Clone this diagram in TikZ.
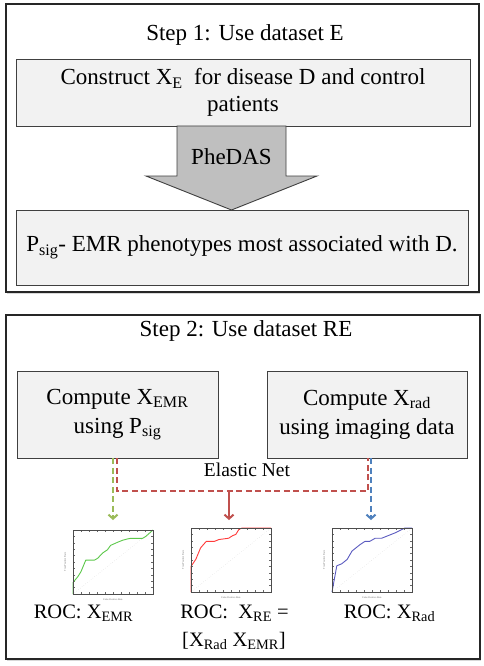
\documentclass[tikz,border=0pt]{standalone}
\usepackage{fontspec}
\setmainfont{Liberation Serif}
\usetikzlibrary{arrows.meta,shadows}
\definecolor{boxfill}{HTML}{F2F2F2}
\definecolor{boxline}{HTML}{404040}
\definecolor{arrowfill}{HTML}{BFBFBF}
\definecolor{dgreen}{HTML}{9BBB59}
\definecolor{dred}{HTML}{C0504D}
\definecolor{dblue}{HTML}{4F81BD}
\definecolor{rocgreen}{HTML}{5CC84A}
\definecolor{rocred}{HTML}{FF3B3B}
\definecolor{rocblue}{HTML}{5A5AC0}
\newcommand\mytext{\fontsize{23}{27}\selectfont}
\newcommand\mytextwide{\fontsize{23}{29}\selectfont}
\newcommand\mysub[1]{\textsubscript{#1}}
\newcommand\rocplot[4]{%
  \begin{scope}[shift={(#1,#2)},x=80pt,y=64pt]
    \draw[black!25,line width=0.3pt,dotted] (0,0) -- (1,1);
    \foreach \t in {0,0.1,...,1.01}{
      \draw[black!60,line width=0.25pt] (\t,0) -- (\t,0.03) (\t,1) -- (\t,0.97)
        (0,\t) -- (0.025,\t) (1,\t) -- (0.975,\t);
    }
    \draw[#3,line width=0.9pt,line join=round] #4;
    \draw[black!70,line width=0.6pt] (0,0) rectangle (1,1);
    \node[font=\fontsize{2.5}{3}\selectfont,text=black!60,anchor=north,inner sep=0.5pt] at (0.5,-0.07) {False Positive Rate};
    \node[font=\fontsize{2.5}{3}\selectfont,text=black!60,anchor=south,rotate=90,inner sep=0.5pt] at (-0.08,0.5) {True Positive Rate};
  \end{scope}}
\begin{document}
\begin{tikzpicture}[x=1pt,y=-1pt,
  outer/.style={draw=black!85,line width=1.5pt,fill=white,rectangle,inner sep=0pt,
    drop shadow={shadow xshift=1pt,shadow yshift=-1.5pt,opacity=0.3}},
  innerbox/.style={draw=boxline,fill=boxfill,line width=0.9pt,rectangle,inner sep=0pt,align=center,font=\mytext},
  title/.style={anchor=base,font=\mytext,inner sep=0pt},
  roclabel/.style={anchor=base,font=\fontsize{20.5}{25}\selectfont,inner sep=0pt},
  dashline/.style={line width=2pt,dash pattern=on 6pt off 3.5pt},
  tip/.style={-{Straight Barb[length=4pt,width=9pt]}}
]
\useasboundingbox (0,0) rectangle (484,666);
\fill[white] (0,0) rectangle (484,666);

% Step 1
\node[outer,minimum width=473pt,minimum height=288pt] (out1) at (242.5,148) {};
\node[title] (t1) at (245,40.5) {Step 1: Use dataset E};
\node[innerbox,minimum width=454pt,minimum height=67pt] (boxA) at (243,92.5)
  {Construct X\mysub{E}\ \ for disease D and control\\patients};
\node[innerbox,minimum width=452pt,minimum height=75pt] (boxB) at (242,247.5)
  {P\mysub{sig}- EMR phenotypes most associated with D.};
\draw[draw=boxline,fill=arrowfill,line width=0.9pt,line join=miter]
  (177,126) -- (286,126) -- (286,176) -- (317,176) -- (231.5,210) -- (146,176) -- (177,176) -- cycle;
\node[title] (phedas) at (231.5,164) {PheDAS};

% Step 2
\node[outer,minimum width=474pt,minimum height=344pt] (out2) at (243,487) {};
\node[title] (t2) at (246,336.7) {Step 2: Use dataset RE};
\node[innerbox,font=\mytextwide,minimum width=201pt,minimum height=87pt] (boxC) at (117.5,414.5)
  {Compute X\mysub{EMR}\\using P\mysub{sig}};
\node[innerbox,font=\mytextwide,minimum width=200pt,minimum height=87pt] (boxD) at (367,414.5)
  {Compute X\mysub{rad}\\using imaging data};
\node[anchor=base,font=\fontsize{19.5}{22}\selectfont,inner sep=0pt] (enet) at (247,476) {Elastic Net};

\coordinate (gEnd) at (113,520);
\coordinate (rL) at (117,491);
\coordinate (rR) at (368,491);
\coordinate (rMid) at (229,491);
\coordinate (rEnd) at (229,520);
\coordinate (bEnd) at (371,520);
\draw[dashline,dred] (boxC.south -| rL) -- (rL) -- (rR) -- (boxD.south -| rR);
\draw[line width=2pt,dred,tip] (rMid) -- (rEnd);
\draw[dashline,dgreen,tip] (boxC.south -| gEnd) -- (gEnd);
\draw[dashline,dblue,tip] (boxD.south -| bEnd) -- (bEnd);

% ROC plots
\rocplot{73}{594}{rocgreen}{(0,0) -- (0,0.18) -- (0.06,0.27) -- (0.10,0.35) -- (0.16,0.53) -- (0.27,0.53) -- (0.31,0.56) -- (0.37,0.64) -- (0.43,0.69) -- (0.47,0.76) -- (0.56,0.81) -- (0.62,0.84) -- (0.68,0.86) -- (0.72,0.87) -- (0.87,0.87) -- (0.91,0.90) -- (1,1)}
\rocplot{191}{592}{rocred}{(0,0) -- (0,0.40) -- (0.06,0.51) -- (0.12,0.69) -- (0.19,0.79) -- (0.29,0.79) -- (0.35,0.82) -- (0.41,0.83) -- (0.47,0.84) -- (0.52,0.88) -- (0.56,0.90) -- (0.60,0.98) -- (0.64,1) -- (1,1)}
\rocplot{332}{592}{rocblue}{(0,0) -- (0.06,0.41) -- (0.12,0.44) -- (0.19,0.51) -- (0.25,0.64) -- (0.31,0.70) -- (0.35,0.74) -- (0.41,0.79) -- (0.47,0.79) -- (0.54,0.84) -- (0.62,0.84) -- (0.70,0.88) -- (0.80,0.93) -- (0.91,1) -- (1,1)}

\node[roclabel] (roc1) at (83.5,618) {ROC: X\mysub{EMR}};
\node[roclabel] (roc2a) at (234.5,618) {ROC:\ \ X\mysub{RE} =};
\node[roclabel] (roc2b) at (234,646) {[X\mysub{Rad} X\mysub{EMR}]};
\node[roclabel] (roc3) at (389.5,618) {ROC: X\mysub{Rad}};
\end{tikzpicture}
\end{document}
